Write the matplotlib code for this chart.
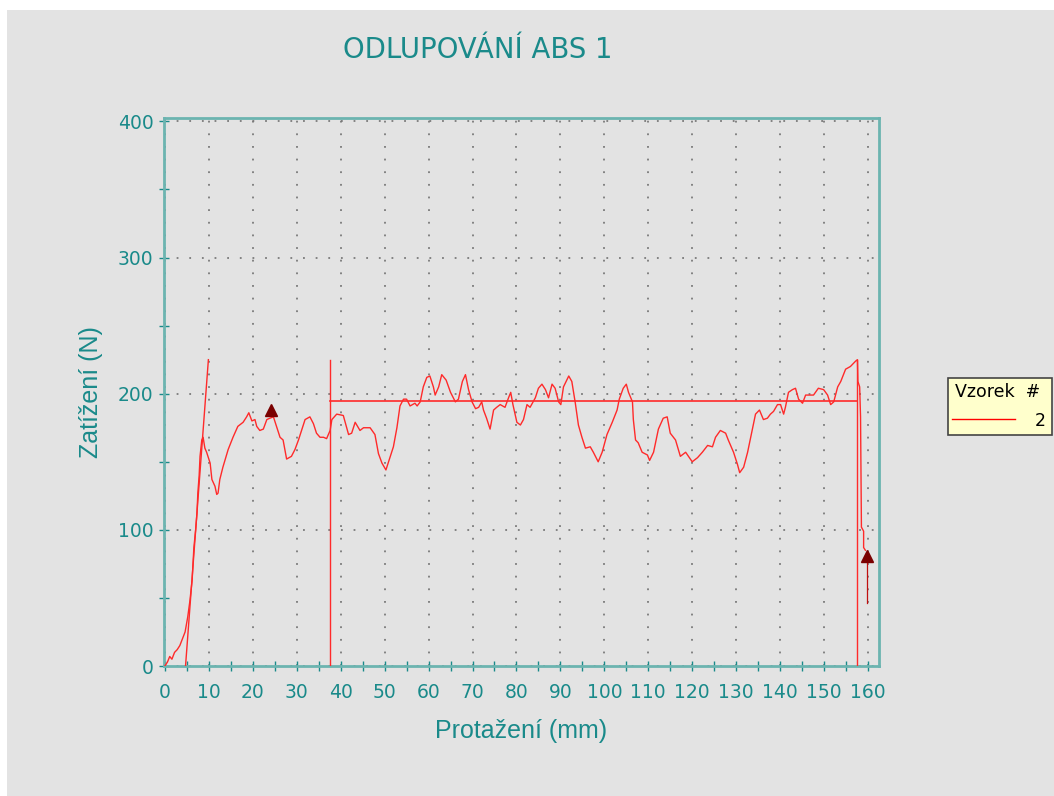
import matplotlib
matplotlib.use("Agg")
import matplotlib.pyplot as plt
from matplotlib.patches import Rectangle
from matplotlib.lines import Line2D
from matplotlib.ticker import MultipleLocator

# peel test curve, elongation (mm) vs load (N)
protazeni = [
    0, 0.6, 1.1, 1.6, 2.2, 2.8, 3.4, 4.0, 4.6, 5.2, 5.7, 6.2, 6.6, 7.0, 7.3, 7.5, 7.8, 8.0,
    8.4, 8.7, 9.1, 9.5, 10.3, 10.7, 11.4, 11.8, 12.1, 12.5, 13.2, 14.4, 15.5, 16.6, 17.8,
    18.6, 19.1, 19.8, 20.5, 20.9, 21.6, 22.4, 23.2, 23.9, 24.7, 25.4, 26.2, 26.9, 27.3,
    27.7, 28.8, 29.6, 30.4, 31.1, 31.9, 33.0, 33.8, 34.5, 35.3, 36.1, 36.8, 37.6, 38.0,
    39.1, 40.6, 41.8, 42.5, 43.3, 44.4, 45.2, 46.7, 47.8, 48.6, 49.4, 50.3, 51.3, 52.0,
    52.8, 53.5, 54.3, 55.0, 55.8, 56.9, 57.4, 58.1, 58.8, 59.6, 60.3, 61.1, 61.5, 62.3,
    63.0, 64.0, 65.0, 66.1, 66.8, 67.7, 68.4, 69.1, 69.9, 70.7, 71.4, 72.1, 72.5, 73.2,
    74.0, 74.8, 75.5, 76.3, 77.4, 78.2, 78.7, 79.2, 80.1, 80.9, 81.6, 82.4, 83.1, 84.3,
    85.0, 85.8, 86.6, 87.3, 88.1, 88.8, 89.6, 90.1, 90.7, 91.9, 92.6, 93.4, 94.1, 94.9,
    95.7, 96.8, 97.5, 98.6, 99.5, 100.6, 101.8, 102.9, 103.4, 104.3, 105.0, 105.5, 106.4,
    106.6, 107.1, 107.7, 108.6, 109.8, 110.3, 111.2, 112.3, 113.4, 114.3, 115.0, 116.2,
    117.3, 118.5, 120.0, 121.2, 122.3, 123.5, 124.6, 125.3, 126.4, 127.6, 128.2, 129.4,
    130.3, 130.8, 131.7, 132.6, 133.7, 134.4, 135.3, 136.2, 137.1, 137.8, 138.5, 139.4,
    140.1, 140.8, 141.2, 141.9, 142.8, 143.5, 144.2, 145.1, 145.8, 147.6, 148.7, 149.9,
    150.8, 151.5, 152.2, 153.1, 153.8, 154.9, 156.0, 157.2, 157.6, 157.7, 158.1, 158.3,
    158.5, 159.0, 159.0, 159.4,
]
zatizeni = [
    0, 3, 7, 5, 10, 12, 15, 20, 25, 36, 48, 63, 87, 100, 112, 127, 140, 154,
    166, 168, 160, 157, 149, 137, 132, 126, 127, 137, 146, 159, 168, 176, 179,
    183, 186, 180, 181, 176, 173, 174, 181, 182, 183, 176, 168, 166, 159,
    152, 154, 159, 166, 173, 181, 183, 178, 171, 168, 168, 167, 173, 181,
    185, 184, 170, 171, 179, 173, 175, 175, 170, 156, 149, 144, 154, 161,
    175, 191, 196, 196, 191, 193, 191, 194, 205, 212, 213, 205, 199, 205,
    214, 210, 201, 194, 196, 209, 214, 203, 194, 189, 190, 194, 188, 182,
    174, 188, 190, 192, 190, 197, 201, 192, 179, 177, 181, 192, 190, 197,
    204, 207, 203, 197, 207, 204, 194, 192, 205, 213, 209, 193, 177, 168,
    160, 161, 157, 150, 157, 170, 179, 188, 196, 204, 207, 201, 194,
    181, 166, 164, 157, 155, 151, 157, 174, 182, 183, 171, 166,
    154, 157, 150, 153, 157, 162, 161, 168, 173, 171, 166, 157,
    148, 142, 146, 157, 174, 185, 188, 181, 182, 185, 187, 192,
    192, 185, 190, 201, 203, 204, 196, 193, 199, 199, 204, 203,
    199, 192, 194, 205, 209, 218, 220, 224, 225, 209, 205, 183,
    102, 99, 87, 85,
]

# modulus line and evaluation markers
modul_x = [4.7, 9.9]
modul_y = [0, 225]
usek_x = [37.6, 157.6]
usek_max = 225
prumer = 194.3
znacky_x = [24.1, 159.7]
znacky_y = [188, 81]
konec_y = [81, 46]

TEAL = "#1a8a8a"
SPINE = "#6cb4b0"
BG = "#e3e3e3"
RED = "#ff2a2a"
DARK = "#7a0000"

fig = plt.figure(figsize=(10.54, 7.96), dpi=100, facecolor="white")
fig.patches.append(Rectangle((7 / 1054, 0), 1 - 7 / 1054, 1 - 10 / 796,
                             transform=fig.transFigure, facecolor=BG, edgecolor="none", zorder=-10))

ax = fig.add_axes([164 / 1054, 1 - 666 / 796, (879 - 164) / 1054, (666 - 118) / 796])
ax.set_facecolor(BG)
ax.set_xlim(-0.2, 162.5)
ax.set_ylim(0, 402.5)

ax.plot(protazeni, zatizeni, color=RED, lw=1.0, zorder=3)
ax.plot(modul_x, modul_y, color=RED, lw=1.0, zorder=3)
for ux in usek_x:
    ax.plot([ux, ux], [0, usek_max], color=RED, lw=1.0, zorder=3)
ax.plot(usek_x, [prumer, prumer], color=RED, lw=1.2, zorder=3)
ax.plot([znacky_x[1], znacky_x[1]], konec_y, color="#c01010", lw=0.9, zorder=3)
ax.plot(znacky_x, znacky_y, linestyle="none", marker="^", ms=9, color=DARK, zorder=4)

ax.xaxis.set_major_locator(MultipleLocator(10))
ax.xaxis.set_minor_locator(MultipleLocator(5))
ax.yaxis.set_major_locator(MultipleLocator(100))
ax.yaxis.set_minor_locator(MultipleLocator(50))
ax.grid(which="major", color="#7a7a7a", linestyle=(0, (1, 6)), lw=1.3)
ax.set_axisbelow(True)

for side in ["left", "bottom", "top", "right"]:
    ax.spines[side].set_color(SPINE)
    ax.spines[side].set_linewidth(2)

ax.tick_params(which="both", direction="inout", color=TEAL, width=1, length=7,
               labelcolor=TEAL, labelsize=13.5, top=False, right=False)
ax.tick_params(axis="x", which="major", pad=9)
ax.tick_params(axis="y", which="major", pad=4)

ax.set_xlabel("Protažení (mm)", family="Liberation Sans", fontsize=18, color=TEAL, labelpad=12)
ax.set_ylabel("Zatížení (N)", family="Liberation Sans", fontsize=18, color=TEAL, labelpad=11)

fig.text(478 / 1054, 1 - 50 / 796, "ODLUPOVÁNÍ ABS 1", ha="center", va="center",
         fontsize=19.8, color=TEAL)

# legend box
fig.patches.append(Rectangle((948 / 1054, 1 - 435 / 796), 104 / 1054, 57 / 796,
                             transform=fig.transFigure, facecolor="#ffffcc",
                             edgecolor="#444444", lw=1.2))
fig.text(955 / 1054, 1 - 392 / 796, "Vzorek  #", ha="left", va="center", fontsize=12.5, color="black")
fig.lines.append(Line2D([952 / 1054, 1015 / 1054], [1 - 419 / 796, 1 - 419 / 796],
                        transform=fig.transFigure, color="#ff0000", lw=1.0))
fig.text(1046 / 1054, 1 - 421 / 796, "2", ha="right", va="center", fontsize=12.5, color="black")

fig.savefig("out.png", dpi=100, facecolor=fig.get_facecolor())
